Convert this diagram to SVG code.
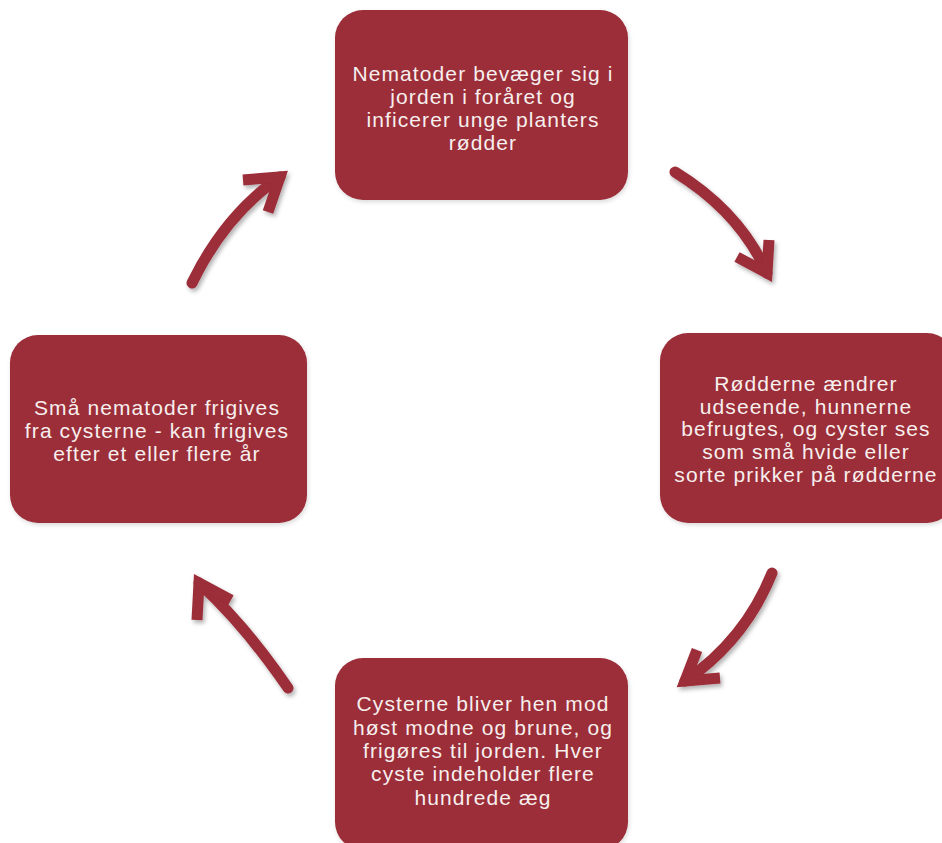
<svg xmlns="http://www.w3.org/2000/svg" width="942" height="843" viewBox="0 0 942 843">
<defs>
<filter id="sh" x="-20%" y="-20%" width="140%" height="140%">
<feDropShadow dx="2" dy="3" stdDeviation="2" flood-color="#000" flood-opacity="0.3"/>
</filter>
<filter id="bsh" x="-10%" y="-10%" width="120%" height="120%">
<feDropShadow dx="1" dy="2" stdDeviation="2" flood-color="#000" flood-opacity="0.15"/>
</filter>
</defs>
<style>
.box{fill:#9B2D39;filter:url(#bsh)}
.t{font-family:"Liberation Sans",Arial,sans-serif;font-size:21px;letter-spacing:1.1px;fill:#F7EEEE;text-anchor:middle}
.shaft{fill:none;stroke:#9B2D39;stroke-width:11;stroke-linecap:round}
.head{fill:none;stroke:#9B2D39;stroke-width:11;stroke-linejoin:miter;stroke-linecap:butt;stroke-miterlimit:6}
</style>
<rect width="942" height="843" fill="#fff"/>
<g id="connectors">
<g filter="url(#sh)">
<path class="shaft" d="M675,172 Q740,212 767,273"/>
<polyline class="head" points="737,257 767,273 769,240"/>
</g>
<g filter="url(#sh)">
<path class="shaft" d="M772,573 Q745,640 685,681"/>
<polyline class="head" points="697,650 685,681 720,678"/>
</g>
<g filter="url(#sh)">
<path class="shaft" d="M288,688 Q245,625 199,583"/>
<polyline class="head" points="197,620 199,583 231,600"/>
</g>
<g filter="url(#sh)">
<path class="shaft" d="M192,283 Q225,215 280,177"/>
<polyline class="head" points="243,180 280,177 268,212"/>
</g>
</g>
<g id="node-top">
<rect class="box" x="335" y="10" width="293" height="190" rx="28"/>
<text class="t" x="483" y="81">Nematoder bevæger sig i</text>
<text class="t" x="483" y="104">jorden i foråret og</text>
<text class="t" x="483" y="127">inficerer unge planters</text>
<text class="t" x="483" y="150">rødder</text>
</g>
<g id="node-right">
<rect class="box" x="660" y="333" width="295" height="190" rx="28"/>
<text class="t" x="806" y="391">Rødderne ændrer</text>
<text class="t" x="806" y="414">udseende, hunnerne</text>
<text class="t" x="806" y="436">befrugtes, og cyster ses</text>
<text class="t" x="806" y="459">som små hvide eller</text>
<text class="t" x="806" y="482">sorte prikker på rødderne</text>
</g>
<g id="node-bottom">
<rect class="box" x="335" y="658" width="293" height="192" rx="28"/>
<text class="t" x="483" y="711">Cysterne bliver hen mod</text>
<text class="t" x="483" y="735">høst modne og brune, og</text>
<text class="t" x="483" y="758">frigøres til jorden. Hver</text>
<text class="t" x="483" y="781">cyste indeholder flere</text>
<text class="t" x="483" y="805">hundrede æg</text>
</g>
<g id="node-left">
<rect class="box" x="10" y="335" width="297" height="188" rx="28"/>
<text class="t" x="157" y="415">Små nematoder frigives</text>
<text class="t" x="157" y="438">fra cysterne - kan frigives</text>
<text class="t" x="157" y="461">efter et eller flere år</text>
</g>
</svg>
